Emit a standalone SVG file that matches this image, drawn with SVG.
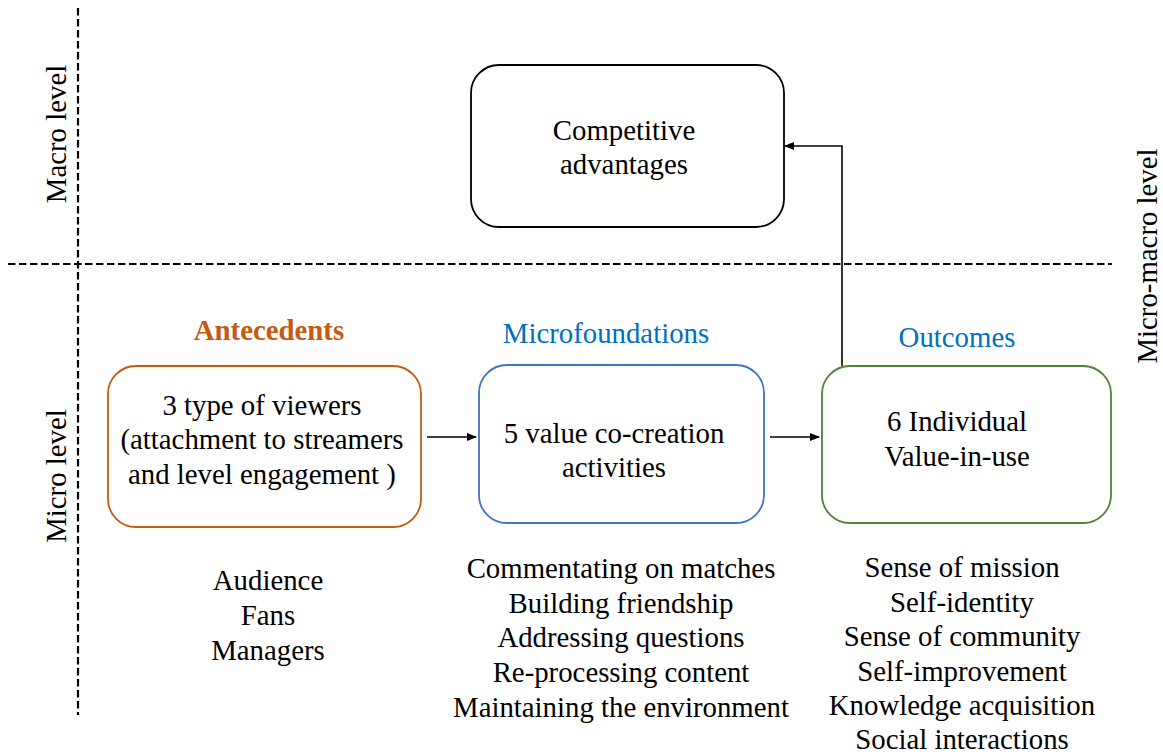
<svg xmlns="http://www.w3.org/2000/svg" width="1163" height="756" viewBox="0 0 1163 756">
<style>
text{font-family:'Liberation Serif','Times New Roman',serif;font-size:28.8px;fill:#000;text-anchor:middle}
.dash{stroke:#000;stroke-width:2.2;stroke-dasharray:7.5,3.5;fill:none}
.box{fill:#fff;stroke-width:1.8}
.conn{stroke:#000;stroke-width:1.6;fill:none}
.hdr-o{fill:#C55A11;font-weight:bold}
.hdr-b{fill:#0070C0}
</style>
<defs>
<marker id="ah" markerWidth="10" markerHeight="8" refX="9" refY="4" orient="auto" markerUnits="userSpaceOnUse">
<path d="M0,0 L10,4 L0,8 Z" fill="#000"/>
</marker>
</defs>
<rect width="1163" height="756" fill="#fff"/>
<g id="axes">
<line class="dash" x1="78" y1="8" x2="78" y2="715"/>
<line class="dash" x1="8" y1="264" x2="1112" y2="264"/>
<text transform="translate(66,134) rotate(-90)">Macro level</text>
<text transform="translate(66,476) rotate(-90)">Micro level</text>
<text transform="translate(1157,256) rotate(-90)">Micro-macro level</text>
</g>
<g id="competitive">
<rect class="box" x="471" y="65" width="313" height="162" rx="28" stroke="#000"/>
<text x="624" y="140">Competitive</text>
<text x="624" y="174">advantages</text>
</g>
<g id="antecedents">
<text class="hdr-o" x="269" y="340">Antecedents</text>
<rect class="box" x="108" y="366" width="313" height="161" rx="28" stroke="#C55A11"/>
<text x="262" y="414.5">3 type of viewers</text>
<text x="262" y="448.5">(attachment to streamers</text>
<text x="262" y="483.5">and level engagement )</text>
<text x="268" y="589.5">Audience</text>
<text x="268" y="624.5">Fans</text>
<text x="268" y="659.5">Managers</text>
</g>
<g id="microfoundations">
<text class="hdr-b" x="606" y="343">Microfoundations</text>
<rect class="box" x="479" y="365" width="285" height="158" rx="28" stroke="#4472C4"/>
<text x="614" y="443">5 value co-creation</text>
<text x="614" y="477">activities</text>
<text x="621" y="578">Commentating on matches</text>
<text x="621" y="613">Building friendship</text>
<text x="621" y="647">Addressing questions</text>
<text x="621" y="682">Re-processing content</text>
<text x="621" y="717">Maintaining the environment</text>
</g>
<g id="outcomes">
<text class="hdr-b" x="957" y="347">Outcomes</text>
<rect class="box" x="822" y="366" width="289" height="157" rx="28" stroke="#538135"/>
<text x="957" y="431">6 Individual</text>
<text x="957" y="466">Value-in-use</text>
<text x="962" y="577">Sense of mission</text>
<text x="962" y="612">Self-identity</text>
<text x="962" y="646">Sense of community</text>
<text x="962" y="681">Self-improvement</text>
<text x="962" y="715">Knowledge acquisition</text>
<text x="962" y="749">Social interactions</text>
</g>
<g id="connectors">
<line class="conn" x1="427" y1="437" x2="476" y2="437" marker-end="url(#ah)"/>
<line class="conn" x1="770" y1="437" x2="819" y2="437" marker-end="url(#ah)"/>
<polyline class="conn" points="842,366 842,146 785,146" marker-end="url(#ah)"/>
</g>
</svg>
